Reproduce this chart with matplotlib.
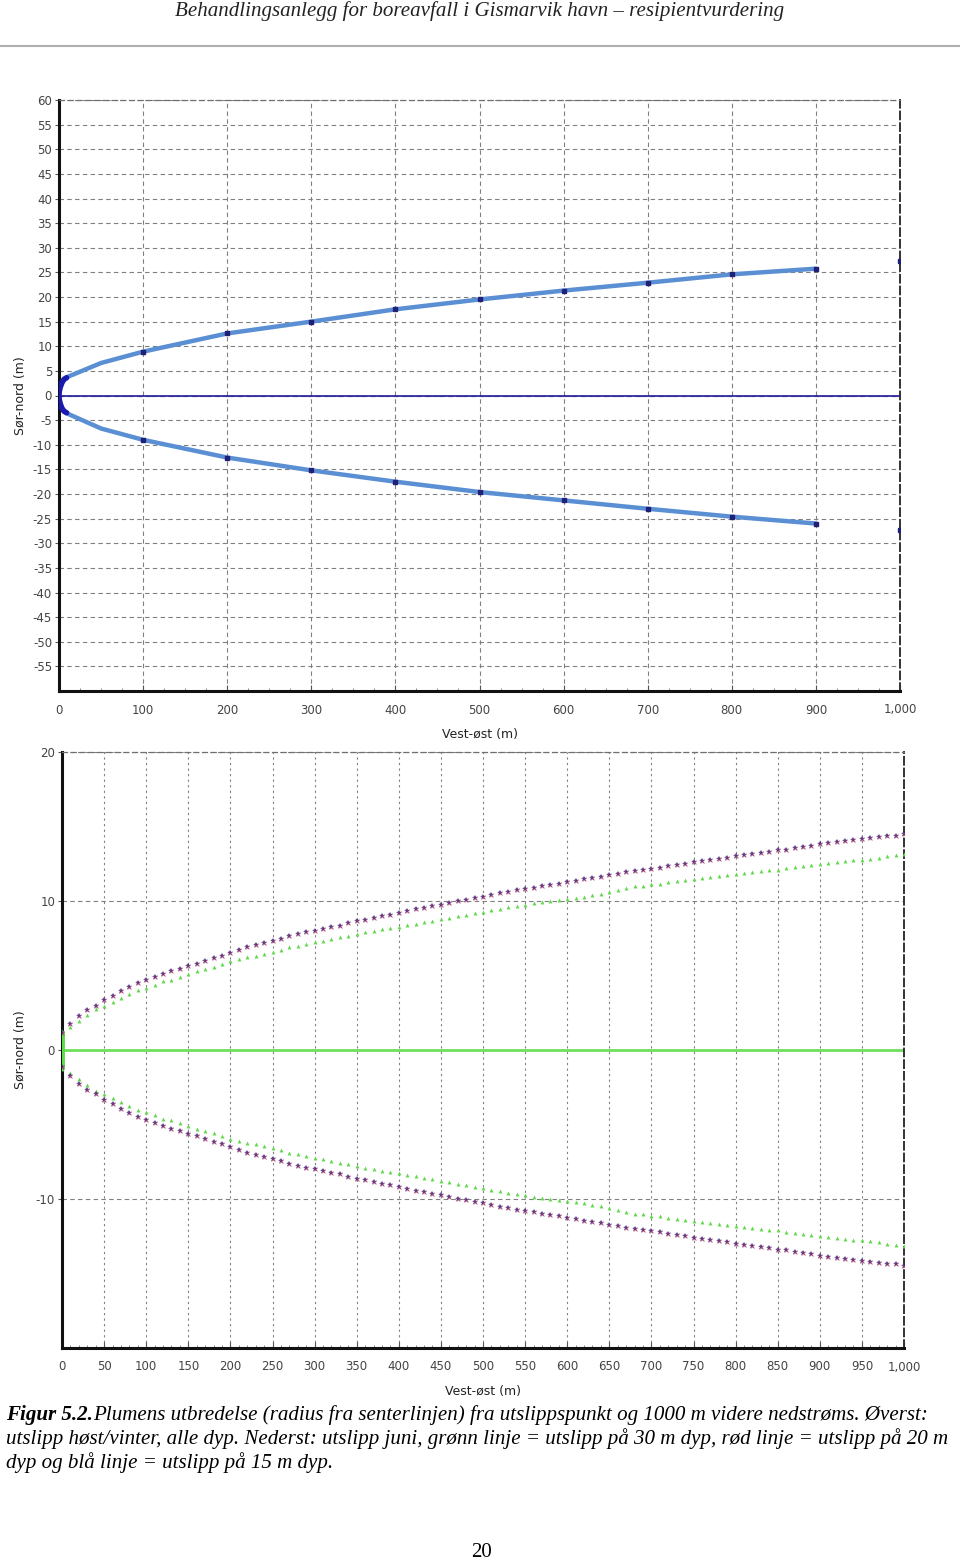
import numpy as np
import matplotlib.pyplot as plt
from matplotlib.lines import Line2D
from matplotlib.ticker import FuncFormatter, MultipleLocator

plt.rcParams["axes.unicode_minus"] = False

# ---- top panel: høst/vinter, alle dyp ----
near_x = [9, 6, 3.5, 1.5, 0.3, 0, 0.3, 1.5, 3.5, 6, 9]
near_y = [3.6, 3.3, 2.6, 1.7, 0.8, 0, -0.8, -1.7, -2.6, -3.2, -3.5]

top_x = [9, 50, 100, 200, 300, 400, 500, 600, 700, 800, 900]
top_upper = [3.7, 6.6, 8.9, 12.6, 15.0, 17.5, 19.5, 21.3, 22.9, 24.6, 25.75]
top_lower = [-3.6, -6.7, -9.0, -12.6, -15.2, -17.5, -19.6, -21.3, -23.0, -24.6, -26.0]

top_mark_x = [100, 200, 300, 400, 500, 600, 700, 800, 900, 1000]
top_mark_upper = [8.9, 12.6, 15.0, 17.5, 19.5, 21.3, 22.9, 24.6, 25.75, 27.3]
top_mark_lower = [-9.0, -12.6, -15.2, -17.5, -19.6, -21.3, -23.0, -24.6, -26.0, -27.4]

# ---- bottom panel: juni, radius per 10 m ----
dist = np.arange(0, 1001, 10)

r_20m = [
    1.17, 1.73, 2.29, 2.67, 2.96, 3.34, 3.64, 3.93, 4.24, 4.47,
    4.69, 4.92, 5.10, 5.27, 5.43, 5.62, 5.80, 5.98, 6.15, 6.33,
    6.52, 6.70, 6.88, 7.05, 7.18, 7.29, 7.44, 7.62, 7.76, 7.89,
    8.01, 8.13, 8.24, 8.35, 8.51, 8.64, 8.75, 8.84, 8.96, 9.09,
    9.22, 9.31, 9.43, 9.52, 9.65, 9.76, 9.88, 9.97, 10.08, 10.17,
    10.30, 10.42, 10.52, 10.59, 10.71, 10.82, 10.89, 11.00, 11.09, 11.16,
    11.27, 11.33, 11.45, 11.54, 11.60, 11.72, 11.83, 11.94, 12.01, 12.10,
    12.17, 12.23, 12.32, 12.39, 12.50, 12.61, 12.68, 12.73, 12.79, 12.88,
    13.02, 13.11, 13.18, 13.24, 13.29, 13.40, 13.45, 13.56, 13.62, 13.69,
    13.85, 13.89, 13.96, 14.03, 14.07, 14.14, 14.23, 14.30, 14.34, 14.39,
    14.48,
]
# 15 m and 20 m plumes lie on top of each other in the figure
r_15m = list(r_20m)

r_30m = [
    1.30, 1.55, 1.95, 2.33, 2.74, 2.96, 3.25, 3.52, 3.75, 4.00,
    4.15, 4.38, 4.60, 4.73, 4.87, 5.10, 5.27, 5.43, 5.59, 5.77,
    5.95, 6.11, 6.22, 6.33, 6.44, 6.55, 6.71, 6.89, 6.98, 7.12,
    7.23, 7.34, 7.45, 7.56, 7.68, 7.79, 7.90, 7.97, 8.13, 8.19,
    8.28, 8.42, 8.46, 8.57, 8.69, 8.80, 8.87, 8.96, 9.09, 9.18,
    9.25, 9.41, 9.47, 9.58, 9.65, 9.70, 9.85, 9.92, 10.03, 10.08,
    10.15, 10.21, 10.30, 10.42, 10.48, 10.62, 10.72, 10.86, 10.98, 11.04,
    11.11, 11.16, 11.27, 11.33, 11.38, 11.45, 11.54, 11.60, 11.67, 11.72,
    11.78, 11.87, 11.94, 11.99, 12.05, 12.10, 12.21, 12.28, 12.32, 12.39,
    12.50, 12.55, 12.61, 12.66, 12.73, 12.77, 12.84, 12.91, 13.00, 13.06,
    13.18,
]

header = "Behandlingsanlegg for boreavfall i Gismarvik havn – resipientvurdering"
cap_bold = "Figur 5.2."
cap_1 = "Plumens utbredelse (radius fra senterlinjen) fra utslippspunkt og 1000 m videre nedstrøms. Øverst:"
cap_2 = "utslipp høst/vinter, alle dyp. Nederst: utslipp juni, grønn linje = utslipp på 30 m dyp, rød linje = utslipp på 20 m"
cap_3 = "dyp og blå linje = utslipp på 15 m dyp."

W, H = 960, 1560
fig = plt.figure(figsize=(W / 100, H / 100), dpi=100)

thousands = FuncFormatter(lambda v, p: f"{v:,.0f}")
grid_kw = dict(color="#808080", lw=0.8, linestyle=(0, (4, 3)))


def style_axes(ax):
    for s in ["left", "bottom"]:
        ax.spines[s].set_linewidth(2.2)
        ax.spines[s].set_color("#111111")
    ax.spines["top"].set_linestyle((0, (4, 3)))
    ax.spines["top"].set_color("#707070")
    ax.spines["top"].set_linewidth(0.9)
    ax.spines["right"].set_linestyle((0, (4, 2)))
    ax.spines["right"].set_color("#333333")
    ax.spines["right"].set_linewidth(1.4)
    ax.tick_params(axis="both", labelsize=8.5, labelcolor="#444444", color="#555555")
    ax.tick_params(axis="y", direction="out", length=3, pad=2)
    ax.tick_params(axis="x", which="major", direction="in", length=4, pad=9)
    ax.tick_params(axis="x", which="minor", direction="in", length=2.5, color="#777777")
    ax.xaxis.set_major_formatter(thousands)
    ax.set_axisbelow(True)


# ---- top axes ----
ax1 = fig.add_axes([59 / W, 1 - 691 / H, 841 / W, 591 / H])
ax1.set_xlim(0, 1000)
ax1.set_ylim(-60, 60)
ax1.set_xticks(np.arange(0, 1001, 100))
ax1.xaxis.set_minor_locator(MultipleLocator(25))
ax1.set_yticks(np.arange(-55, 61, 5))
ax1.grid(True, which="major", **grid_kw)
style_axes(ax1)

ax1.axhline(0, color="#e07060", lw=1.0, linestyle=(0, (4, 4)), alpha=0.6, zorder=2)
ax1.axhline(0, color="#1c1ca0", lw=1.2, zorder=3)
ax1.plot(top_x, top_upper, color="#5b8fd4", lw=3.2, solid_capstyle="round", zorder=4)
ax1.plot(top_x, top_lower, color="#5b8fd4", lw=3.2, solid_capstyle="round", zorder=4)
ax1.plot(near_x, near_y, color="#1a1ab0", lw=4, solid_capstyle="round", zorder=5)
ax1.plot(top_mark_x, top_mark_upper, "s", color="#202078", ms=2.8, zorder=6)
ax1.plot(top_mark_x, top_mark_lower, "s", color="#202078", ms=2.8, zorder=6)

ax1.set_xlabel("Vest-øst (m)", fontsize=9, color="#222222", labelpad=8)
ax1.set_ylabel("Sør-nord (m)", fontsize=9, color="#222222")
ax1.yaxis.set_label_coords((27 - 59) / 841, 0.5)

# ---- bottom axes ----
ax2 = fig.add_axes([62 / W, 1 - 1348 / H, 842 / W, 596 / H])
ax2.set_xlim(0, 1000)
ax2.set_ylim(-20, 20)
ax2.set_xticks(np.arange(0, 1001, 50))
ax2.xaxis.set_minor_locator(MultipleLocator(10))
ax2.set_yticks([-10, 0, 10, 20])
ax2.grid(True, axis="y", **grid_kw)
ax2.grid(True, axis="x", color="#808080", lw=0.8, linestyle=(0, (2, 3)))
style_axes(ax2)

r15 = np.array(r_15m)
r20 = np.array(r_20m)
r30 = np.array(r_30m)

ax2.axhline(0, color="#6ee05a", lw=2.0, zorder=2)
ax2.vlines(dist[0], -r30[0], r30[0], color="#5fd84a", lw=3.5, zorder=3)
ax2.plot(dist, r30, "^", color="#5fd84a", ms=2.8, mew=0, zorder=4)
ax2.plot(dist, -r30, "^", color="#5fd84a", ms=2.8, mew=0, zorder=4)
ax2.plot(dist, r15, "*", color="#2a2a88", ms=4.2, mew=0, zorder=5)
ax2.plot(dist, -r15, "*", color="#2a2a88", ms=4.2, mew=0, zorder=5)
ax2.plot(dist, r20, "x", color="#b04070", ms=3.2, mew=0.8, alpha=0.7, zorder=6)
ax2.plot(dist, -r20, "x", color="#b04070", ms=3.2, mew=0.8, alpha=0.7, zorder=6)

ax2.set_xlabel("Vest-øst (m)", fontsize=9, color="#222222", labelpad=8)
ax2.set_ylabel("Sør-nord (m)", fontsize=9, color="#222222")
ax2.yaxis.set_label_coords((27 - 62) / 842, 0.5)

# ---- page text ----
serif = ["Liberation Serif", "DejaVu Serif"]
fs = 15.1
fig.text(0.5, 1 - 16 / H, header, ha="center", va="baseline", fontsize=15.1,
         style="italic", family=serif, color="#222222")
fig.add_artist(Line2D([0, 1], [1 - 46 / H, 1 - 46 / H], transform=fig.transFigure,
                      color="#b0b0b0", lw=1.5))

x0 = 6 / W
t = fig.text(x0, 1 - 1420 / H, cap_bold, ha="left", va="baseline", fontsize=fs,
             style="italic", weight="bold", family=serif)
fig.canvas.draw()
bb = t.get_window_extent(renderer=fig.canvas.get_renderer())
fig.text(bb.x1 / W, 1 - 1420 / H, cap_1, ha="left", va="baseline", fontsize=fs,
         style="italic", family=serif)
fig.text(x0, 1 - 1444 / H, cap_2, ha="left", va="baseline", fontsize=fs,
         style="italic", family=serif)
fig.text(x0, 1 - 1468 / H, cap_3, ha="left", va="baseline", fontsize=fs,
         style="italic", family=serif)
fig.text(481 / W, 1 - 1557 / H, "20", ha="center", va="baseline", fontsize=15,
         family=serif)

fig.savefig("out.png", dpi=100)
